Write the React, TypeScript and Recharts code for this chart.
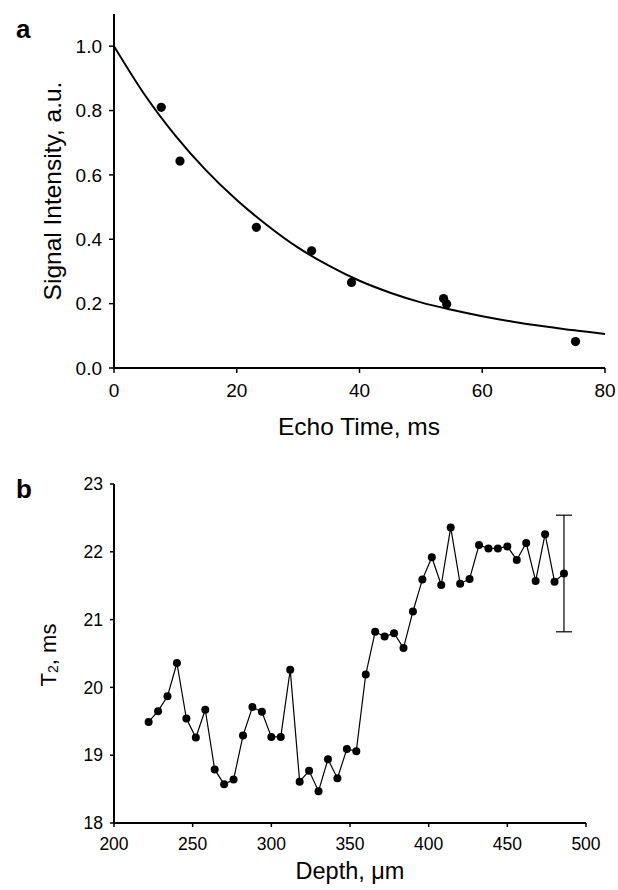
import React from "react";
import {
  ComposedChart,
  LineChart,
  Line,
  Scatter,
  XAxis,
  YAxis,
  ErrorBar,
} from "recharts";

// ---- Panel a data ----
const echoTime = [7.7, 10.75, 23.2, 32.2, 38.7, 53.7, 54.2, 75.2];
const signal = [0.81, 0.643, 0.437, 0.364, 0.266, 0.216, 0.199, 0.082];
const fitTime = [0, 5, 10, 15, 20, 25, 30, 35, 40, 45, 50, 55, 60, 65, 70, 75, 80];
const fitSignal = [1.0, 0.849, 0.722, 0.614, 0.522, 0.443, 0.374, 0.318, 0.271, 0.234, 0.204, 0.181, 0.161, 0.144, 0.13, 0.117, 0.106];
const aXTicks = [0, 20, 40, 60, 80];
const aYTicks = [0, 0.2, 0.4, 0.6, 0.8, 1.0];

// ---- Panel b data ----
const depth = [222, 228, 234, 240, 246, 252, 258, 264, 270, 276, 282, 288, 294, 300, 306, 312, 318, 324, 330, 336, 342, 348, 354, 360, 366, 372, 378, 384, 390, 396, 402, 408, 414, 420, 426, 432, 438, 444, 450, 456, 462, 468, 474, 480, 486];
const t2 = [19.49, 19.65, 19.87, 20.36, 19.54, 19.26, 19.67, 18.79, 18.57, 18.64, 19.29, 19.71, 19.64, 19.27, 19.27, 20.26, 18.61, 18.77, 18.47, 18.94, 18.66, 19.09, 19.06, 20.19, 20.82, 20.75, 20.8, 20.58, 21.12, 21.59, 21.92, 21.51, 22.36, 21.53, 21.6, 22.1, 22.05, 22.05, 22.08, 21.88, 22.13, 21.57, 22.26, 21.56, 21.68];
const t2ErrorIndex = [44];
const t2ErrorValue = [0.86];
const bXTicks = [200, 250, 300, 350, 400, 450, 500];
const bYTicks = [18, 19, 20, 21, 22, 23];

const FONT = "'Liberation Sans', Arial, Helvetica, sans-serif";

const pointsA = echoTime.map((t, i) => ({ t, v: signal[i] }));
const curveA = fitTime.map((t, i) => ({ t, v: fitSignal[i] }));
const dataB = depth.map((d, i) => {
  const k = t2ErrorIndex.indexOf(i);
  return { d, v: t2[i], err: k >= 0 ? t2ErrorValue[k] : undefined };
});

export default function App() {
  return (
    <div
      style={{
        position: "fixed",
        left: 0,
        top: 0,
        width: 618,
        height: 890,
        overflow: "hidden",
        background: "#fff",
        fontFamily: FONT,
      }}
    >
      <svg width={618} height={890} style={{ position: "absolute", left: 0, top: 0 }}>
        <text x={16} y={38} fontSize={26} fontWeight="bold" fontFamily={FONT} fill="#000">a</text>
        <text x={16} y={498} fontSize={26} fontWeight="bold" fontFamily={FONT} fill="#000">b</text>
        <text
          x={52}
          y={191}
          transform="rotate(-90 52 191)"
          textAnchor="middle"
          dominantBaseline="central"
          fontSize={24.5}
          fontFamily={FONT}
          fill="#000"
        >
          Signal Intensity, a.u.
        </text>
        <text x={359} y={435} textAnchor="middle" fontSize={24.5} fontFamily={FONT} fill="#000">
          Echo Time, ms
        </text>
        <text
          x={48}
          y={655}
          transform="rotate(-90 48 655)"
          textAnchor="middle"
          dominantBaseline="central"
          fontSize={22}
          fontFamily={FONT}
          fill="#000"
        >
          T<tspan fontSize={14} dy={5}>2</tspan>
          <tspan dy={-5}>, ms</tspan>
        </text>
        <text x={350} y={879} textAnchor="middle" fontSize={23.5} fontFamily={FONT} fill="#000">
          Depth, μm
        </text>
      </svg>

      <div style={{ position: "absolute", left: 0, top: 0 }}>
        <ComposedChart width={618} height={450} margin={{ top: 14, right: 13, left: 0, bottom: 0 }} style={{ overflow: "visible" }}>
          <XAxis
            dataKey="t"
            type="number"
            domain={[0, 80]}
            ticks={aXTicks}
            allowDataOverflow
            interval={0}
            height={82}
            tickSize={5}
            tickMargin={11}
            axisLine={{ stroke: "#000", strokeWidth: 2 }}
            tickLine={{ stroke: "#000", strokeWidth: 1.5 }}
            tick={{ fill: "#000", fontSize: 19, fontFamily: FONT }}
          />
          <YAxis
            type="number"
            domain={[0, 1.1]}
            ticks={aYTicks}
            allowDataOverflow
            interval={0}
            width={114}
            tickSize={5}
            tickMargin={7}
            tickFormatter={(v: number) => v.toFixed(1)}
            axisLine={{ stroke: "#000", strokeWidth: 2 }}
            tickLine={{ stroke: "#000", strokeWidth: 1.5 }}
            tick={{ fill: "#000", fontSize: 19, fontFamily: FONT }}
          />
          <Line
            data={curveA}
            dataKey="v"
            type="monotone"
            stroke="#000"
            strokeWidth={2}
            dot={false}
            activeDot={false}
            isAnimationActive={false}
          />
          <Scatter
            data={pointsA}
            dataKey="v"
            fill="#000"
            shape={(p: any) => <circle cx={p.cx} cy={p.cy} r={4.6} fill="#000" />}
            isAnimationActive={false}
          />
        </ComposedChart>
      </div>

      <div style={{ position: "absolute", left: 0, top: 460 }}>
        <LineChart width={618} height={430} data={dataB} margin={{ top: 24, right: 32, left: 0, bottom: 0 }}>
          <XAxis
            dataKey="d"
            type="number"
            domain={[200, 500]}
            ticks={bXTicks}
            allowDataOverflow
            interval={0}
            height={67}
            tickSize={4}
            tickMargin={11}
            axisLine={{ stroke: "#000", strokeWidth: 2 }}
            tickLine={{ stroke: "#000", strokeWidth: 1.5 }}
            tick={{ fill: "#000", fontSize: 17.5, fontFamily: FONT }}
          />
          <YAxis
            type="number"
            domain={[18, 23]}
            ticks={bYTicks}
            allowDataOverflow
            interval={0}
            width={114}
            tickSize={4}
            tickMargin={7}
            axisLine={{ stroke: "#000", strokeWidth: 2 }}
            tickLine={{ stroke: "#000", strokeWidth: 1.5 }}
            tick={{ fill: "#000", fontSize: 17.5, fontFamily: FONT }}
          />
          <Line
            dataKey="v"
            type="linear"
            stroke="#000"
            strokeWidth={1.2}
            dot={{ r: 4, fill: "#000", stroke: "#000", strokeWidth: 0 }}
            activeDot={false}
            isAnimationActive={false}
          >
            <ErrorBar dataKey="err" direction="y" width={8} stroke="#000" strokeWidth={1.2} />
          </Line>
        </LineChart>
      </div>
    </div>
  );
}
